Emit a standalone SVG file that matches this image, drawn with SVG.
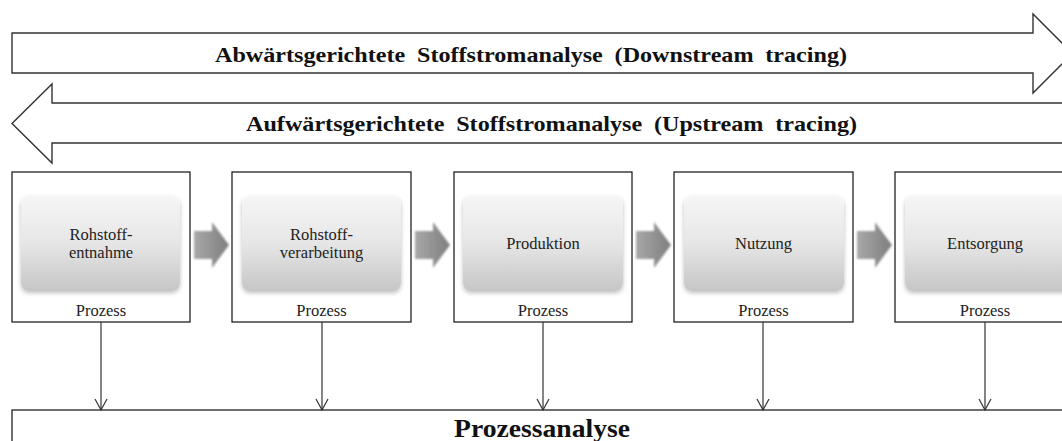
<svg xmlns="http://www.w3.org/2000/svg" width="1062" height="441" viewBox="0 0 1062 441">
<defs>
<style>
.outline{fill:#fff;stroke:#333;stroke-width:1.4}
.box{fill:#fff;stroke:#222;stroke-width:1.3}
.inner{fill:url(#ig);filter:url(#sh)}
.flow{fill:url(#ag);filter:url(#soft)}
.title{font-family:"Liberation Serif","Times New Roman",serif;font-weight:bold;font-size:21px;fill:#111}
.lbl{font-family:"Liberation Serif","Times New Roman",serif;font-size:16.5px;fill:#222;text-anchor:middle}
.conn line{stroke:#333;stroke-width:1.2}
.conn path{fill:none;stroke:#333;stroke-width:1.2}
</style>
<linearGradient id="ig" x1="0" y1="0" x2="0" y2="1">
<stop offset="0" stop-color="#f6f6f6"/>
<stop offset="0.5" stop-color="#e6e6e6"/>
<stop offset="1" stop-color="#c6c6c6"/>
</linearGradient>
<linearGradient id="ag" x1="0" y1="0" x2="1" y2="0">
<stop offset="0" stop-color="#a8a8a8"/>
<stop offset="1" stop-color="#7e7e7e"/>
</linearGradient>
<filter id="sh" x="-10%" y="-10%" width="120%" height="130%">
<feGaussianBlur in="SourceAlpha" stdDeviation="2"/>
<feOffset dy="2" result="b"/>
<feFlood flood-color="#000" flood-opacity="0.25"/>
<feComposite in2="b" operator="in" result="s"/>
<feMerge><feMergeNode in="s"/><feMergeNode in="SourceGraphic"/></feMerge>
</filter>
<filter id="soft" x="-10%" y="-10%" width="120%" height="120%">
<feGaussianBlur stdDeviation="0.8"/>
</filter>
</defs>

<g id="downstream">
<polygon class="outline" points="12,33 1033,33 1033,14 1072.5,53.5 1033,93 1033,73 12,73"/>
<text class="title" x="215" y="62" textLength="632" lengthAdjust="spacingAndGlyphs" word-spacing="5">Abwärtsgerichtete Stoffstromanalyse (Downstream tracing)</text>
</g>

<g id="upstream">
<polygon class="outline" points="1080,103 52,103 52,84 12,123.5 52,163 52,143 1080,143"/>
<text class="title" x="246" y="131" textLength="611" lengthAdjust="spacingAndGlyphs" word-spacing="5">Aufwärtsgerichtete Stoffstromanalyse (Upstream tracing)</text>
</g>

<g id="p1">
<rect class="box" x="12" y="172" width="178" height="150"/>
<rect class="inner" x="21" y="196" width="159" height="95" rx="8"/>
<text class="lbl" x="101" y="240">Rohstoff-</text>
<text class="lbl" x="101" y="258">entnahme</text>
<text class="lbl" x="101" y="316">Prozess</text>
</g>
<g id="p2">
<rect class="box" x="232" y="172" width="179" height="150"/>
<rect class="inner" x="242" y="196" width="159" height="95" rx="8"/>
<text class="lbl" x="321.5" y="240">Rohstoff-</text>
<text class="lbl" x="321.5" y="258">verarbeitung</text>
<text class="lbl" x="321.5" y="316">Prozess</text>
</g>
<g id="p3">
<rect class="box" x="454" y="172" width="178" height="150"/>
<rect class="inner" x="463" y="196" width="160" height="95" rx="8"/>
<text class="lbl" x="543" y="249">Produktion</text>
<text class="lbl" x="543" y="316">Prozess</text>
</g>
<g id="p4">
<rect class="box" x="674" y="172" width="179" height="150"/>
<rect class="inner" x="684" y="196" width="160" height="95" rx="8"/>
<text class="lbl" x="763.5" y="249">Nutzung</text>
<text class="lbl" x="763.5" y="316">Prozess</text>
</g>
<g id="p5">
<rect class="box" x="895" y="172" width="180" height="150"/>
<rect class="inner" x="905" y="196" width="170" height="95" rx="8"/>
<text class="lbl" x="985" y="249">Entsorgung</text>
<text class="lbl" x="985" y="316">Prozess</text>
</g>

<g id="analysis">
<rect class="box" x="12" y="410" width="1070" height="50"/>
<text x="542" y="437" text-anchor="middle" font-family="'Liberation Serif','Times New Roman',serif" font-weight="bold" font-size="26" textLength="176" lengthAdjust="spacingAndGlyphs" fill="#111">Prozessanalyse</text>
</g>

<g id="connectors">
<g id="flow-arrows">
<polygon class="flow" points="194,231 212,231 212,222 229,245 212,268 212,259 194,259"/>
<polygon class="flow" points="415,231 433,231 433,222 450,245 433,268 433,259 415,259"/>
<polygon class="flow" points="636,231 654,231 654,222 671,245 654,268 654,259 636,259"/>
<polygon class="flow" points="857,231 875,231 875,222 892,245 875,268 875,259 857,259"/>
</g>
<g class="conn">
<line x1="101" y1="322" x2="101" y2="410"/><path d="M95,399 L101,410 L107,399"/>
<line x1="322" y1="322" x2="322" y2="410"/><path d="M316,399 L322,410 L328,399"/>
<line x1="543" y1="322" x2="543" y2="410"/><path d="M537,399 L543,410 L549,399"/>
<line x1="763" y1="322" x2="763" y2="410"/><path d="M757,399 L763,410 L769,399"/>
<line x1="985" y1="322" x2="985" y2="410"/><path d="M979,399 L985,410 L991,399"/>
</g>
</g>
</svg>
